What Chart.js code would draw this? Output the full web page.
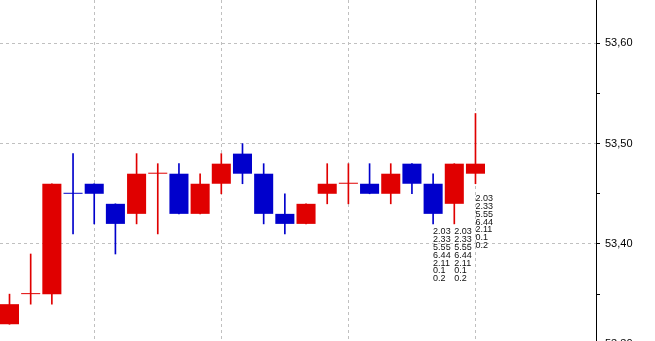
<!DOCTYPE html>
<html>
<head>
<meta charset="utf-8">
<script src="https://cdn.jsdelivr.net/npm/chart.js@4/dist/chart.umd.min.js"></script>
<style>
  html, body { margin: 0; padding: 0; background: #fff; }
  #wrap { width: 655px; height: 341px; position: relative; }
</style>
</head>
<body>
<div id="wrap"><canvas id="candles"></canvas></div>
<script>
// one bar per slot, index = position on the time axis
const opens  = [53.32, 53.35, 53.35, 53.45, 53.46, 53.44, 53.43, 53.47, 53.47, 53.43, 53.46, 53.49,
                53.47, 53.43, 53.42, 53.45, 53.46, 53.46, 53.45, 53.48, 53.46, 53.44, 53.47];
const closes = [53.34, 53.35, 53.46, 53.45, 53.45, 53.42, 53.47, 53.47, 53.43, 53.46, 53.48, 53.47,
                53.43, 53.42, 53.44, 53.46, 53.46, 53.45, 53.47, 53.46, 53.43, 53.48, 53.48];
const highs  = [53.35, 53.39, 53.46, 53.49, 53.46, 53.44, 53.49, 53.48, 53.48, 53.47, 53.49, 53.50,
                53.48, 53.45, 53.44, 53.48, 53.48, 53.48, 53.48, 53.48, 53.47, 53.48, 53.53];
const lows   = [53.32, 53.34, 53.34, 53.41, 53.42, 53.39, 53.42, 53.41, 53.43, 53.43, 53.45, 53.46,
                53.42, 53.41, 53.42, 53.44, 53.44, 53.45, 53.44, 53.45, 53.42, 53.42, 53.46];

const xTicks = [4, 10, 16, 22];
const yTicks = [53.30, 53.35, 53.40, 53.45, 53.50, 53.55, 53.60];
const yTickLabels = ["53,30", "", "53,40", "", "53,50", "", "53,60"];

// little stacked numbers printed under the last bars
const noteBars = [20, 21, 22];
const noteLevels = [53.412, 53.412, 53.445];
const noteLines = ["2.03", "2.33", "5.55", "6.44", "2.11", "0.1", "0.2"];

const UP = "#e00000";
const DOWN = "#0000cc";

function barColor(i) {
  if (closes[i] > opens[i]) return UP;
  if (closes[i] < opens[i]) return DOWN;
  // doji: compare with previous close
  return i > 0 && closes[i] < closes[i - 1] ? DOWN : UP;
}

const bodies = opens.map((o, i) => ({ x: i, y: [o, closes[i]] }));
const wicks = lows.map((l, i) => ({ x: i, y: [l, highs[i]] }));

const notesPlugin = {
  id: "notes",
  afterDatasetsDraw(chart) {
    const { ctx } = chart;
    const xs = chart.scales.x;
    const ys = chart.scales.y;
    ctx.save();
    ctx.font = "9px 'Liberation Sans', Arial, sans-serif";
    ctx.fillStyle = "#111";
    ctx.textAlign = "left";
    ctx.textBaseline = "middle";
    noteBars.forEach((bar, k) => {
      const x = xs.getPixelForValue(bar);
      const y0 = ys.getPixelForValue(noteLevels[k]);
      noteLines.forEach((t, j) => ctx.fillText(t, x, y0 + j * 7.8));
    });
    ctx.restore();
  },
};

new Chart(document.getElementById("candles"), {
  type: "bar",
  data: {
    datasets: [
      {
        label: "wick",
        data: wicks,
        backgroundColor: (c) => barColor(c.dataIndex),
        barThickness: 1,
        grouped: false,
        order: 2,
      },
      {
        label: "body",
        data: bodies,
        backgroundColor: (c) => barColor(c.dataIndex),
        barPercentage: 0.9,
        categoryPercentage: 1,
        minBarLength: 1,
        grouped: false,
        order: 1,
      },
    ],
  },
  plugins: [notesPlugin],
  options: {
    responsive: true,
    maintainAspectRatio: false,
    animation: false,
    devicePixelRatio: 1,
    layout: { padding: 0 },
    plugins: { legend: { display: false }, tooltip: { enabled: false } },
    scales: {
      x: {
        type: "linear",
        offset: false,
        min: -0.4485,
        max: 27.69,
        afterBuildTicks: (s) => { s.ticks = xTicks.map((v) => ({ value: v })); },
        afterFit: (s) => { s.height = 0; s.paddingLeft = 0; s.paddingRight = 0; },
        ticks: { display: false },
        border: { display: false, dash: [3, 3] },
        grid: { color: "#c0c0c0", lineWidth: 1, drawTicks: false, offset: false },
      },
      y: {
        position: "right",
        min: 53.3033,
        max: 53.6431,
        afterBuildTicks: (s) => { s.ticks = yTicks.map((v) => ({ value: v })); },
        afterFit: (s) => { s.width = 59; s.paddingTop = 0; s.paddingBottom = 0; },
        ticks: {
          color: "#000",
          padding: 5,
          font: { family: "'Liberation Sans', Arial, sans-serif", size: 11 },
          callback: (v, i) => yTickLabels[i],
        },
        border: { display: true, color: "#000", width: 1, dash: [3, 3] },
        grid: {
          color: (c) => (c.tick && yTickLabels[c.index] ? "#c0c0c0" : "rgba(0,0,0,0)"),
          tickColor: "#000",
          tickLength: 4,
          lineWidth: 1,
        },
      },
    },
  },
});
</script>
</body>
</html>
